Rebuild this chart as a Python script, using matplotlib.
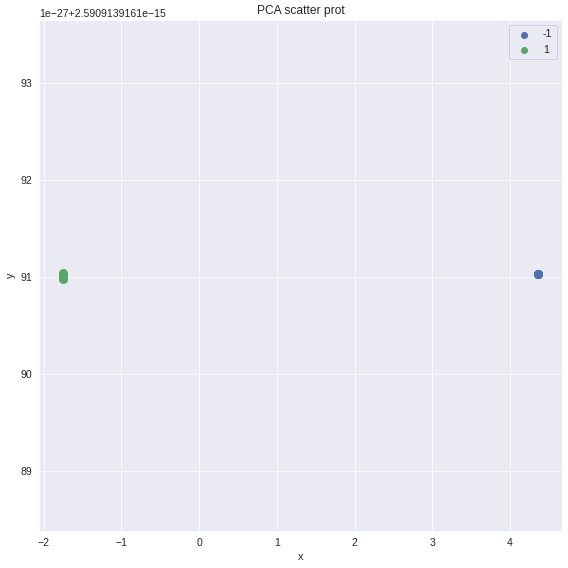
import matplotlib
matplotlib.use("Agg")
import matplotlib.pyplot as plt
from matplotlib.ticker import ScalarFormatter
import seaborn as sns

# class labels and their points (x = PC1, y = PC2)
labels = ["-1", "1"]
x_neg = [4.36, 4.36, 4.36, 4.36]
y_neg = [2.59091391619103e-15, 2.59091391619103e-15, 2.59091391619103e-15,
         2.59091391619103e-15]
x_pos = [-1.75, -1.75, -1.75, -1.75, -1.75]
y_pos = [2.59091391619104e-15, 2.59091391619102e-15, 2.59091391619100e-15,
         2.59091391619098e-15, 2.59091391619103e-15]
colors = ["#4C72B0", "#55A868"]
y_offset = 2.5909139161e-15


class OldOffsetFormatter(ScalarFormatter):
    # older matplotlib printed the offset with '%1.10e'
    def format_data(self, value):
        mant, exp = ('%1.10e' % value).split('e')
        mant = mant.rstrip('0').rstrip('.')
        s = '%se%d' % (mant, int(exp))
        return s.replace('-', '\u2212')


sns.set_style("darkgrid")
plt.rcParams['font.family'] = ['Liberation Sans', 'DejaVu Sans']

fig, ax = plt.subplots(figsize=(568 / 72, 568 / 72), dpi=72)
fig.subplots_adjust(left=0.069, right=0.989, top=0.965, bottom=0.066)

ax.scatter(x_neg, y_neg, s=64, color=colors[0], label=labels[0])
ax.scatter(x_pos, y_pos, s=64, color=colors[1], label=labels[1])

ax.set_ylim(2.5909139161883900e-15, 2.5909139161936450e-15)
fmt = OldOffsetFormatter(useOffset=y_offset)
ax.yaxis.set_major_formatter(fmt)
ax.set_title("PCA scatter prot", fontsize=12)
ax.set_xlabel("x", fontsize=11)
ax.set_ylabel("y", fontsize=11)
ax.tick_params(labelsize=10.5)
ax.yaxis.get_offset_text().set_fontsize(10.5)

leg = ax.legend(loc=1, frameon=True, fontsize=10.5, markerscale=0.75)
leg.get_frame().set_edgecolor("#c4c4ec")
leg.get_frame().set_facecolor("#eaeaf2")

fig.savefig("out.png", dpi=72)
